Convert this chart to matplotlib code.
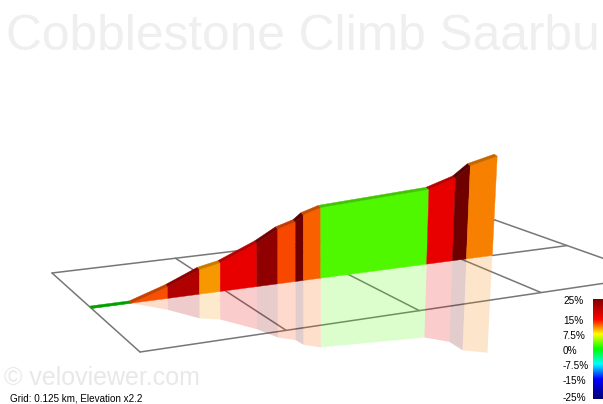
import numpy as np
import matplotlib
matplotlib.use('Agg')
import matplotlib.pyplot as plt
from matplotlib.colors import LinearSegmentedColormap, to_rgb
from matplotlib.patches import Polygon

plt.rcParams['font.family'] = ['Liberation Sans', 'DejaVu Sans']

# climb profile
dist_m = [0, 36, 70, 100, 120, 156, 177, 195, 203, 221, 335, 364, 380, 410]
elev_m = [0, 0, 5.6, 11.8, 13.7, 20.8, 26.2, 28.6, 31.4, 33.8, 35.8, 39.6, 44.6, 47.5]
seg_colors = ['#00c800', '#f85000', '#b00000', '#f89800', '#e80000', '#900000', '#f84800',
              '#700000', '#f86000', '#50f800', '#e80000', '#700000', '#f88000']

grade_ticks = [25, 15, 7.5, 0, -7.5, -15, -25]
grade_labels = ['25%', '15%', '7.5%', '0%', '-7.5%', '-15%', '-25%']
grade_stops = [-25, -15, -7.5, 0, 7.5, 15, 25]
grade_stop_colors = ['#000070', '#0000ff', '#00ffff', '#00ff00', '#ffff00', '#ff0000', '#800000']

GRID_M = 125
N_U = 4


def fit_plane():
    # ground plane corners on screen -> homography
    src = [(0, 0), (0, 2), (N_U, 0), (N_U, 2)]
    dst = [(52, 273), (140, 352), (495, 220), (653, 276)]
    A, b = [], []
    for (u, v), (x, y) in zip(src, dst):
        A.append([u, v, 1, 0, 0, 0, -u * x, -v * x])
        A.append([0, 0, 0, u, v, 1, -u * y, -v * y])
        b += [x, y]
    h = np.linalg.solve(np.array(A, float), np.array(b, float))
    return np.append(h, 1).reshape(3, 3)


H = fit_plane()


def project(d, v=1.0, e=0.0):
    w = H @ np.array([d / GRID_M, v, 1.0])
    x, y = w[0] / w[2], w[1] / w[2]
    h = 2.09 * e
    return x + 0.00029 * max(x - 321, 0) * h, y - h


fig = plt.figure(figsize=(6.03, 4.04), dpi=100)
ax = fig.add_axes([0, 0, 1, 1])
ax.set_xlim(0, 603)
ax.set_ylim(404, 0)
ax.axis('off')

ax.text(6, 50, 'Cobblestone Climb Saarbu', fontsize=35.7, color='#efefef', zorder=1)
ax.text(4, 385, '\u00a9 veloviewer.com', fontsize=18, color='#e8e8e8', zorder=1)

# ground grid
grid_kw = dict(color='#777777', lw=1.1, zorder=2, solid_capstyle='round')
for i in range(N_U + 1):
    pts = [project(i * GRID_M, v) for v in (0, 2)]
    ax.plot(*zip(*pts), **grid_kw)
for v in (0, 2):
    pts = [project(i * GRID_M, v) for i in (0, N_U)]
    ax.plot(*zip(*pts), **grid_kw)
pts = [project(dist_m[-1], 1), project(N_U * GRID_M, 1)]
ax.plot(*zip(*pts), **grid_kw)

# reflection, wall, top edge per segment
for i, col in enumerate(seg_colors):
    d0, d1 = dist_m[i], dist_m[i + 1]
    e0, e1 = elev_m[i], elev_m[i + 1]
    rgb = np.array(to_rgb(col))
    refl = [project(d0), project(d1), project(d1, e=-0.98 * e1), project(d0, e=-0.98 * e0)]
    ax.add_patch(Polygon(refl, fc=col, ec='none', alpha=0.2, zorder=3))
    wall = [project(d0), project(d1), project(d1, e=e1), project(d0, e=e0)]
    ax.add_patch(Polygon(wall, fc=col, ec=col, lw=0.3, zorder=4))
    top = [project(d0, e=e0), project(d1, e=e1), project(d1, v=0.96, e=e1 + 0.4),
           project(d0, v=0.96, e=e0 + 0.4)]
    dark = rgb * 0.8
    ax.add_patch(Polygon(top, fc=dark, ec=dark, lw=0.3, zorder=4))


# gradient scale
def scale_y(g):
    return 351 - 2 * g


cmap = LinearSegmentedColormap.from_list(
    'grade', [((g + 25) / 50, c) for g, c in zip(grade_stops, grade_stop_colors)])
ax.imshow(np.linspace(1, 0, 256).reshape(-1, 1), cmap=cmap, aspect='auto',
          extent=(593, 603, scale_y(-24), scale_y(26)), zorder=5)
ax.set_xlim(0, 603)
ax.set_ylim(404, 0)
for g, lab in zip(grade_ticks, grade_labels):
    ax.text(563, min(scale_y(g), 398), lab, fontsize=7.2, va='center', color='black', zorder=6)

ax.text(10, 398.5, 'Grid: 0.125 km, Elevation x2.2', fontsize=7.1, va='center', color='black', zorder=6)

fig.savefig('out.png', dpi=100)
